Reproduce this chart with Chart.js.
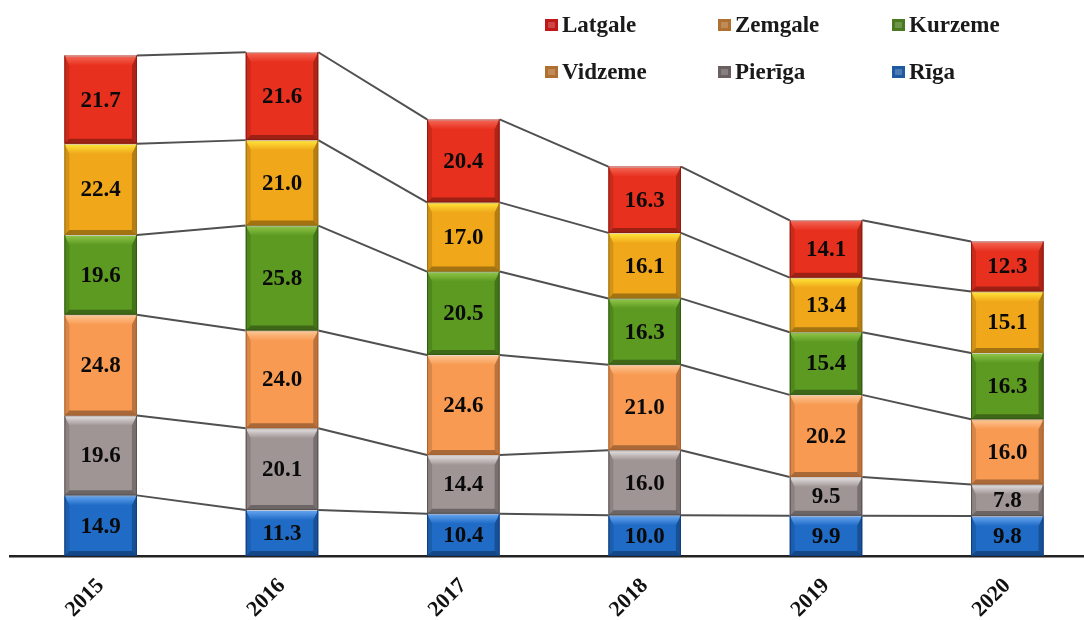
<!DOCTYPE html>
<html>
<head>
<meta charset="utf-8">
<script src="https://cdn.jsdelivr.net/npm/chart.js@4"></script>
<style>
    html, body { margin: 0; padding: 0; background: #fff; overflow: hidden; }
    #wrap { position: absolute; left: 0; top: 0; width: 1100px; height: 620px; }
</style>
</head>
<body>
<div id="wrap"><canvas id="chart"></canvas></div>
<script>
// data, bottom of the stack first
const years = ["2015", "2016", "2017", "2018", "2019", "2020"];
const regions = ["Rīga", "Pierīga", "Vidzeme", "Kurzeme", "Zemgale", "Latgale"];
const riga = [14.9, 11.3, 10.4, 10.0, 9.9, 9.8];
const pieriga = [19.6, 20.1, 14.4, 16.0, 9.5, 7.8];
const vidzeme = [24.8, 24.0, 24.6, 21.0, 20.2, 16.0];
const kurzeme = [19.6, 25.8, 20.5, 16.3, 15.4, 16.3];
const zemgale = [22.4, 21.0, 17.0, 16.1, 13.4, 15.1];
const latgale = [21.7, 21.6, 20.4, 16.3, 14.1, 12.3];
const seriesValues = [riga, pieriga, vidzeme, kurzeme, zemgale, latgale];

// fill, bevel highlight, edge, legend marker
const fillColors = ["#1f6bc6", "#a09595", "#f89a52", "#5c9a22", "#f0a81a", "#e8301f"];
const lightColors = ["#6aa8f2", "#e8e4e4", "#fdc896", "#94c84a", "#ffe83a", "#f46a58"];
const edgeColors = ["#0f3c7a", "#5a5050", "#a8602c", "#2f5a10", "#a07010", "#8b1a12"];
const markerColors = ["#1f5aa0", "#6a6060", "#b07030", "#4a7a20", "#b07030", "#c01818"];

const serif = "'Liberation Serif', 'Times New Roman', serif";

const seriesLines = {
    id: "seriesLines",
    beforeDatasetsDraw(chart) {
        const ctx = chart.ctx;
        ctx.save();
        ctx.strokeStyle = "#505050";
        ctx.lineWidth = 2;
        chart.data.datasets.forEach(function(ds, d) {
            const bars = chart.getDatasetMeta(d).data;
            for (let i = 0; i < bars.length - 1; i++) {
                const a = bars[i].getProps(["x", "y", "width"], true);
                const b = bars[i + 1].getProps(["x", "y", "width"], true);
                ctx.beginPath();
                ctx.moveTo(a.x + a.width / 2, a.y);
                ctx.lineTo(b.x - b.width / 2, b.y);
                ctx.stroke();
            }
        });
        ctx.restore();
    }
};

function trap(ctx, pts, fill) {
    ctx.beginPath();
    ctx.moveTo(pts[0][0], pts[0][1]);
    for (let i = 1; i < pts.length; i++) ctx.lineTo(pts[i][0], pts[i][1]);
    ctx.closePath();
    ctx.fillStyle = fill;
    ctx.fill();
}

const bevelAndLabels = {
    id: "bevelAndLabels",
    afterDatasetsDraw(chart) {
        const ctx = chart.ctx;
        ctx.save();
        chart.data.datasets.forEach(function(ds, d) {
            chart.getDatasetMeta(d).data.forEach(function(bar, i) {
                const p = bar.getProps(["x", "y", "base", "width"], true);
                const l = p.x - p.width / 2, r = p.x + p.width / 2;
                const t = Math.min(p.y, p.base), bt = Math.max(p.y, p.base);
                const tb = 10, sb = 5;
                const g = ctx.createLinearGradient(0, t, 0, t + tb);
                g.addColorStop(0, lightColors[d]);
                g.addColorStop(1, fillColors[d]);
                trap(ctx, [[l, t], [r, t], [r - sb, t + tb], [l + sb, t + tb]], g);
                trap(ctx, [[l, t], [l + sb, t + tb], [l + sb, bt - sb], [l, bt]], "rgba(0,0,0,0.12)");
                trap(ctx, [[r, t], [r - sb, t + tb], [r - sb, bt - sb], [r, bt]], "rgba(0,0,0,0.25)");
                trap(ctx, [[l, bt], [l + sb, bt - sb], [r - sb, bt - sb], [r, bt]], "rgba(0,0,0,0.32)");
                ctx.strokeStyle = edgeColors[d];
                ctx.lineWidth = 1;
                ctx.strokeRect(l + 0.5, t + 0.5, p.width - 1, bt - t - 1);
                ctx.fillStyle = "rgba(255,255,255,0.75)";
                ctx.fillRect(l + 1, t, p.width - 2, 1);

                ctx.fillStyle = "#0a0a0a";
                ctx.font = "bold 23px " + serif;
                ctx.textAlign = "center";
                ctx.textBaseline = "middle";
                ctx.fillText(ds.data[i].toFixed(1), p.x, (t + bt) / 2 + 1);
            });
        });
        ctx.restore();
    }
};

const gridLegend = {
    id: "gridLegend",
    afterDraw(chart) {
        const ctx = chart.ctx;
        const cols = [545, 718, 892];
        const rows = [25, 72];
        const n = chart.data.datasets.length;
        ctx.save();
        ctx.font = "bold 23px " + serif;
        ctx.textAlign = "left";
        ctx.textBaseline = "middle";
        for (let k = 0; k < n; k++) {
            const d = n - 1 - k;
            const x = cols[k % 3], y = rows[Math.floor(k / 3)];
            ctx.fillStyle = markerColors[d];
            ctx.fillRect(x, y - 6, 13, 12);
            ctx.fillStyle = "rgba(255,255,255,0.2)";
            ctx.fillRect(x + 3, y - 3, 7, 6);
            ctx.fillStyle = "#1a1a1a";
            ctx.fillText(chart.data.datasets[d].label, x + 17, y + 1);
        }
        ctx.restore();
    }
};

const datasets = regions.map(function(name, d) {
    return {
        label: name,
        data: seriesValues[d],
        backgroundColor: fillColors[d],
        borderWidth: 0,
        categoryPercentage: 1.0,
        barPercentage: 0.4
    };
});

new Chart(document.getElementById("chart"), {
    type: "bar",
    data: { labels: years, datasets: datasets },
    options: {
        responsive: true,
        maintainAspectRatio: false,
        animation: false,
        events: [],
        layout: { padding: { top: 27, left: 10, right: 2, bottom: 0 } },
        plugins: { legend: { display: false }, tooltip: { enabled: false } },
        scales: {
            x: {
                stacked: true,
                grid: { display: false, drawTicks: false },
                border: { display: true, color: "#222", width: 2.5 },
                ticks: {
                    color: "#111",
                    font: { family: serif, size: 22, weight: "bold" },
                    minRotation: 45,
                    maxRotation: 45,
                    padding: 17
                },
                afterFit(scale) { scale.height = 64; }
            },
            y: {
                stacked: true,
                display: false,
                min: 0,
                max: 130
            }
        }
    },
    plugins: [seriesLines, bevelAndLabels, gridLegend]
});
</script>
</body>
</html>
